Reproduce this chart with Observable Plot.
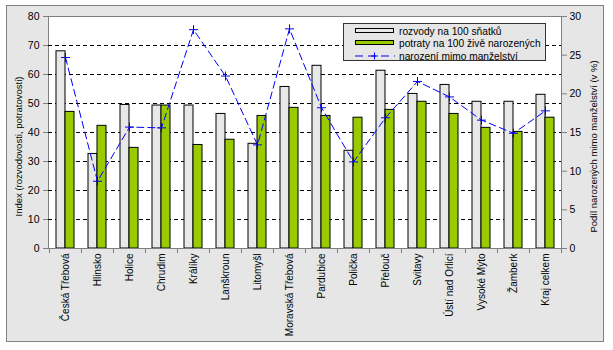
<!DOCTYPE html>
<html><head><meta charset="utf-8">
<script src="https://cdn.jsdelivr.net/npm/d3@7"></script>
<script src="https://cdn.jsdelivr.net/npm/@observablehq/plot@0.6"></script>
<style>
body{margin:0;background:#fff;font-family:"Liberation Sans",Arial,sans-serif;}
#wrap{position:relative;width:613px;height:350px;overflow:hidden;}
#bg{position:absolute;left:6px;top:5px;width:598px;height:337px;box-sizing:border-box;background:#e6e6e6;border:1px solid #808080;}
#chart{position:absolute;left:0;top:0;}
#legend{position:absolute;left:343px;top:23px;width:203px;height:38px;box-sizing:border-box;background:#e6e6e6;border:1px solid #333;font-size:10.2px;color:#000;}
.row{position:absolute;left:11px;height:12px;display:flex;align-items:center;white-space:nowrap;}
.row svg{margin-right:4px;}
</style>
</head><body>
<div id="wrap"><div id="bg"></div><div id="chart"></div>
<div id="legend">
 <div class="row" style="top:1px"><svg width="40" height="8"><rect x="0.5" y="1.5" width="38" height="4" fill="#e8e8e8" stroke="#000"/></svg><span>rozvody na 100 sňatků</span></div>
 <div class="row" style="top:13px"><svg width="40" height="8"><rect x="0.5" y="1.5" width="38" height="4" fill="#99cc00" stroke="#000"/></svg><span>potraty na 100 živě narozených</span></div>
 <div class="row" style="top:26px"><svg width="40" height="8"><line x1="0" y1="4" x2="40" y2="4" stroke="#0000ff" stroke-dasharray="8,5"/><path d="M16,4h7M19.5,0.5v7" stroke="#0000ff"/></svg><span>narození mimo manželství</span></div>
</div>
</div>
<script>
const categories = ["Česká Třebová","Hlinsko","Holice","Chrudim","Králíky","Lanškroun","Litomyšl","Moravská Třebová","Pardubice","Polička","Přelouč","Svitavy","Ústí nad Orlicí","Vysoké Mýto","Žamberk","Kraj celkem"];
const rozvody = [68.0,32.6,49.5,49.3,49.3,46.4,36.1,55.7,63.0,33.7,61.3,53.3,56.4,50.6,50.6,53.0];
const potraty = [47.1,42.3,34.7,49.3,35.7,37.5,45.7,48.5,45.7,45.1,47.8,50.6,46.4,41.6,40.2,45.1];
const mimoManzelstvi = [24.7,8.7,15.7,15.6,28.3,22.3,13.4,28.4,18.2,11.2,16.9,21.6,19.6,16.6,14.9,17.8];
const leftTicks = [0,10,20,30,40,50,60,70,80];
const rightTicks = [0,5,10,15,20,25,30];
const gridLines = [10,20,30,40,50,60,70];
const leftTitle = "Index (rozvodovosti, potratovosti)";
const rightTitle = "Podíl narozených mimo manželství (v %)";

const k = 80/30;
const data = categories.map((c,i)=>({cat:c, rozvody:rozvody[i], potraty:potraty[i], mimo:mimoManzelstvi[i]}));

const chart = Plot.plot({
  width:613, height:350, marginLeft:48, marginRight:52, marginTop:16, marginBottom:102,
  style:{background:"transparent", fontFamily:"Liberation Sans, Arial, sans-serif", fontSize:"10px", color:"black", overflow:"visible"},
  x:{type:"band", domain:categories, padding:0, label:null},
  y:{domain:[0,80], label:null},
  marks:[
    Plot.frame({fill:"white", stroke:"#808080"}),
    Plot.ruleY(gridLines, {stroke:"black", strokeDasharray:"4,3"}),
    Plot.barY(data, {x:"cat", y:"rozvody", fill:"#e8e8e8", stroke:"black", insetLeft:7, insetRight:16}),
    Plot.barY(data, {x:"cat", y:"potraty", fill:"#99cc00", stroke:"black", insetLeft:16, insetRight:7}),
    Plot.line(data, {x:"cat", y:d=>d.mimo*k, stroke:"#0000ff", strokeDasharray:"7,4", strokeWidth:1}),
    Plot.dot(data, {x:"cat", y:d=>d.mimo*k, symbol:"plus", r:3, stroke:"#0000ff", strokeWidth:1}),
    Plot.ruleY([0], {stroke:"#808080"}),
    Plot.axisY(leftTicks, {anchor:"left", tickSize:5, tickPadding:4, stroke:"#808080", label:null, fontSize:10.5}),
    Plot.axisY(rightTicks.map(v=>v*k), {anchor:"right", tickSize:5, tickPadding:3, tickFormat:v=>String(Math.round(v/k)), stroke:"#808080", label:null, fontSize:10.5}),
    Plot.axisX({anchor:"bottom", tickSize:0, tickPadding:5, tickRotate:-90, label:null, fontSize:10}),
    Plot.ruleX(categories, {x:d=>d, dx:-16, insetTop:232, insetBottom:-5, stroke:"#808080"}),
    Plot.ruleX(categories.slice(-1), {x:d=>d, dx:16, insetTop:232, insetBottom:-5, stroke:"#808080"}),
    Plot.text([leftTitle], {frameAnchor:"left", dx:-30, dy:14, rotate:-90, textAnchor:"middle", fontSize:9.5, fill:"black"}),
    Plot.text([rightTitle], {frameAnchor:"right", dx:32, dy:14, rotate:-90, textAnchor:"middle", fontSize:9.5, fill:"black"})
  ]
});
document.getElementById("chart").appendChild(chart);
</script>
</body></html>
